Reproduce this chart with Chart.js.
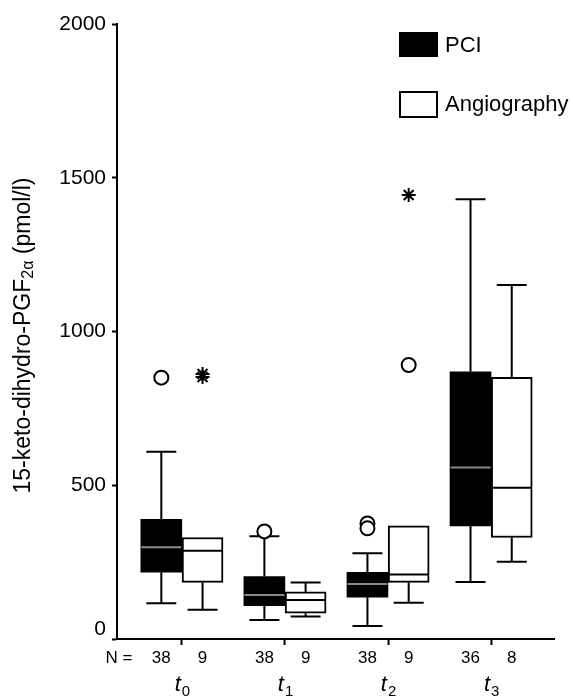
<!DOCTYPE html>
<html>
<head>
<meta charset="utf-8">
<script src="https://cdn.jsdelivr.net/npm/chart.js@4.4.1/dist/chart.umd.min.js"></script>
<style>
  html, body { margin: 0; padding: 0; background: #fff; }
  #wrap { width: 573px; height: 696px; }
</style>
</head>
<body>
<div id="wrap"><canvas id="box-chart"></canvas></div>
<script>
// Time points and group sizes
const timePoints = ['0', '1', '2', '3'];
const nPCI = [38, 38, 38, 36];
const nAngio = [9, 9, 9, 8];

// PCI box plot values (pmol/l)
const pciLow = [116, 62, 42, 185];
const pciQ1 = [217, 108, 136, 368];
const pciMedian = [298, 143, 179, 558];
const pciQ3 = [389, 203, 217, 869];
const pciHigh = [609, 334, 279, 1430];

// Angiography box plot values (pmol/l)
const angioLow = [95, 73, 118, 251];
const angioQ1 = [184, 84, 184, 330];
const angioMedian = [287, 127, 210, 492];
const angioQ3 = [330, 153, 368, 851];
const angioHigh = [330, 184, 368, 1151];

// Outliers (circles) and extremes (asterisks): [time point index, value]
const pciOutliers = [[0, 850], [1, 350], [2, 376], [2, 360]];
const angioOutliers = [[2, 891]];
const angioExtremes = [[0, 852], [0, 862], [2, 1444]];

const yTicks = [0, 500, 1000, 1500, 2000];

const FONT = '"Liberation Sans", Arial, Helvetica, sans-serif';
Chart.defaults.font.family = FONT;
Chart.defaults.color = '#000';

const OFFSET = 0.2; // half box spacing in group units

// whiskers + medians drawn from the arrays through the scales
const boxExtras = {
  id: 'boxExtras',
  beforeDatasetsDraw(chart) {
    const { ctx, scales: { x, y } } = chart;
    ctx.save();
    ctx.strokeStyle = '#000';
    ctx.lineWidth = 2;
    const cap = 15;
    const series = [
      { off: -OFFSET, low: pciLow, q1: pciQ1, q3: pciQ3, high: pciHigh },
      { off: OFFSET, low: angioLow, q1: angioQ1, q3: angioQ3, high: angioHigh }
    ];
    series.forEach(s => {
      timePoints.forEach((t, i) => {
        const cx = x.getPixelForValue(i + s.off);
        if (s.high[i] > s.q3[i]) {
          const yh = y.getPixelForValue(s.high[i]);
          ctx.beginPath();
          ctx.moveTo(cx, y.getPixelForValue(s.q3[i]));
          ctx.lineTo(cx, yh);
          ctx.moveTo(cx - cap, yh);
          ctx.lineTo(cx + cap, yh);
          ctx.stroke();
        }
        if (s.low[i] < s.q1[i]) {
          const yl = y.getPixelForValue(s.low[i]);
          ctx.beginPath();
          ctx.moveTo(cx, y.getPixelForValue(s.q1[i]));
          ctx.lineTo(cx, yl);
          ctx.moveTo(cx - cap, yl);
          ctx.lineTo(cx + cap, yl);
          ctx.stroke();
        }
      });
    });
    ctx.restore();
  },
  afterDatasetsDraw(chart) {
    const { ctx, scales: { x, y } } = chart;
    const half = 20;
    ctx.save();
    ctx.lineWidth = 2;
    timePoints.forEach((t, i) => {
      let cx = x.getPixelForValue(i - OFFSET);
      let my = y.getPixelForValue(pciMedian[i]);
      ctx.strokeStyle = '#8a8a8a';
      ctx.beginPath();
      ctx.moveTo(cx - half, my);
      ctx.lineTo(cx + half, my);
      ctx.stroke();
      cx = x.getPixelForValue(i + OFFSET);
      my = y.getPixelForValue(angioMedian[i]);
      ctx.strokeStyle = '#000';
      ctx.beginPath();
      ctx.moveTo(cx - half, my);
      ctx.lineTo(cx + half, my);
      ctx.stroke();
    });
    ctx.restore();
  }
};

// N row, time point labels, y title and legend
const labelsPlugin = {
  id: 'labelsPlugin',
  afterDraw(chart) {
    const { ctx, scales: { x, y }, chartArea } = chart;
    ctx.save();
    ctx.fillStyle = '#000';

    // the zero label sits a bit above the x axis
    ctx.font = '21px ' + FONT;
    ctx.textAlign = 'right';
    ctx.textBaseline = 'middle';
    ctx.fillText(String(yTicks[0]), chartArea.left - 11, y.getPixelForValue(yTicks[0]) - 10);

    ctx.textAlign = 'center';
    ctx.font = '17px ' + FONT;
    const nY = chartArea.bottom + 19;
    ctx.fillText('N =', chartArea.left + 2, nY);
    timePoints.forEach((t, i) => {
      ctx.fillText(String(nPCI[i]), x.getPixelForValue(i - OFFSET), nY);
      ctx.fillText(String(nAngio[i]), x.getPixelForValue(i + OFFSET), nY);
    });

    // t with subscript
    ctx.textBaseline = 'alphabetic';
    timePoints.forEach((t, i) => {
      const cx = x.getPixelForValue(i);
      ctx.font = 'italic 22px ' + FONT;
      const wT = ctx.measureText('t').width;
      ctx.font = '15px ' + FONT;
      const wS = ctx.measureText(t).width;
      const start = cx - (wT + wS) / 2;
      ctx.textAlign = 'left';
      ctx.font = 'italic 22px ' + FONT;
      ctx.fillText('t', start, chartArea.bottom + 52);
      ctx.font = '15px ' + FONT;
      ctx.fillText(t, start + wT + 1, chartArea.bottom + 57);
    });

    // y axis title with subscript
    ctx.translate(24, (chartArea.top + chartArea.bottom) / 2 + 4);
    ctx.rotate(-Math.PI / 2);
    const parts = [
      { text: '15-keto-dihydro-PGF', size: 23, dy: 0 },
      { text: '2\u03b1', size: 16, dy: 5 },
      { text: ' (pmol/l)', size: 23, dy: 0 }
    ];
    let total = 0;
    parts.forEach(p => { ctx.font = p.size + 'px ' + FONT; p.w = ctx.measureText(p.text).width; total += p.w; });
    let px = -total / 2;
    ctx.textBaseline = 'middle';
    ctx.textAlign = 'left';
    parts.forEach(p => {
      ctx.font = p.size + 'px ' + FONT;
      ctx.fillText(p.text, px, p.dy);
      px += p.w;
    });
    ctx.restore();

    // legend
    ctx.save();
    const lx = chartArea.right - 155;
    ctx.fillStyle = '#000';
    ctx.fillRect(lx, 32, 39, 25);
    ctx.strokeStyle = '#000';
    ctx.lineWidth = 2;
    ctx.strokeRect(lx + 1, 92, 37, 25);
    ctx.font = '22px ' + FONT;
    ctx.textBaseline = 'middle';
    ctx.textAlign = 'left';
    ctx.fillText('PCI', lx + 46, 46);
    ctx.fillText('Angiography', lx + 46, 105);
    ctx.restore();
  }
};

const ctx = document.getElementById('box-chart').getContext('2d');
new Chart(ctx, {
  data: {
    datasets: [
      {
        type: 'bar',
        label: 'PCI',
        data: timePoints.map((t, i) => ({ x: i - OFFSET, y: [pciQ1[i], pciQ3[i]] })),
        backgroundColor: '#000',
        borderWidth: 0,
        barThickness: 41,
        grouped: false,
        order: 2
      },
      {
        type: 'bar',
        label: 'Angiography',
        data: timePoints.map((t, i) => ({ x: i + OFFSET, y: [angioQ1[i], angioQ3[i]] })),
        backgroundColor: '#fff',
        borderColor: '#000',
        borderWidth: 2,
        borderSkipped: false,
        barThickness: 41,
        grouped: false,
        order: 2
      },
      {
        type: 'scatter',
        label: 'Outliers',
        data: pciOutliers.map(o => ({ x: o[0] - OFFSET, y: o[1] }))
          .concat(angioOutliers.map(o => ({ x: o[0] + OFFSET, y: o[1] }))),
        pointStyle: 'circle',
        pointRadius: 7,
        borderWidth: 2,
        borderColor: '#000',
        backgroundColor: '#fff',
        order: 0
      },
      {
        type: 'scatter',
        label: 'Extremes',
        data: angioExtremes.map(o => ({ x: o[0] + OFFSET, y: o[1] })),
        pointStyle: 'star',
        pointRadius: 7,
        borderWidth: 2,
        borderColor: '#000',
        order: 0
      }
    ]
  },
  options: {
    responsive: true,
    maintainAspectRatio: false,
    animation: false,
    devicePixelRatio: 1,
    layout: { padding: { left: 0, top: 24, right: 19, bottom: 0 } },
    plugins: {
      legend: { display: false },
      tooltip: { enabled: false }
    },
    scales: {
      x: {
        type: 'linear',
        offset: false,
        min: -0.63,
        max: 3.61,
        afterBuildTicks: scale => { scale.ticks = timePoints.map((t, i) => ({ value: i })); },
        afterFit: scale => { scale.height = 57; },
        ticks: { callback: () => '', padding: 0 },
        grid: { offset: false, drawOnChartArea: false, tickLength: 6, tickWidth: 2, color: '#000' },
        border: { color: '#000', width: 2 }
      },
      y: {
        min: 0,
        max: 2000,
        afterBuildTicks: scale => { scale.ticks = yTicks.map(v => ({ value: v })); },
        afterFit: scale => { scale.width = 117; },
        ticks: { font: { size: 21 }, color: '#000', padding: 6, callback: v => (v === 0 ? '' : String(v)) },
        grid: { drawOnChartArea: false, tickLength: 5, tickWidth: 2, color: '#000' },
        border: { color: '#000', width: 2 }
      }
    }
  },
  plugins: [boxExtras, labelsPlugin]
});
</script>
</body>
</html>
